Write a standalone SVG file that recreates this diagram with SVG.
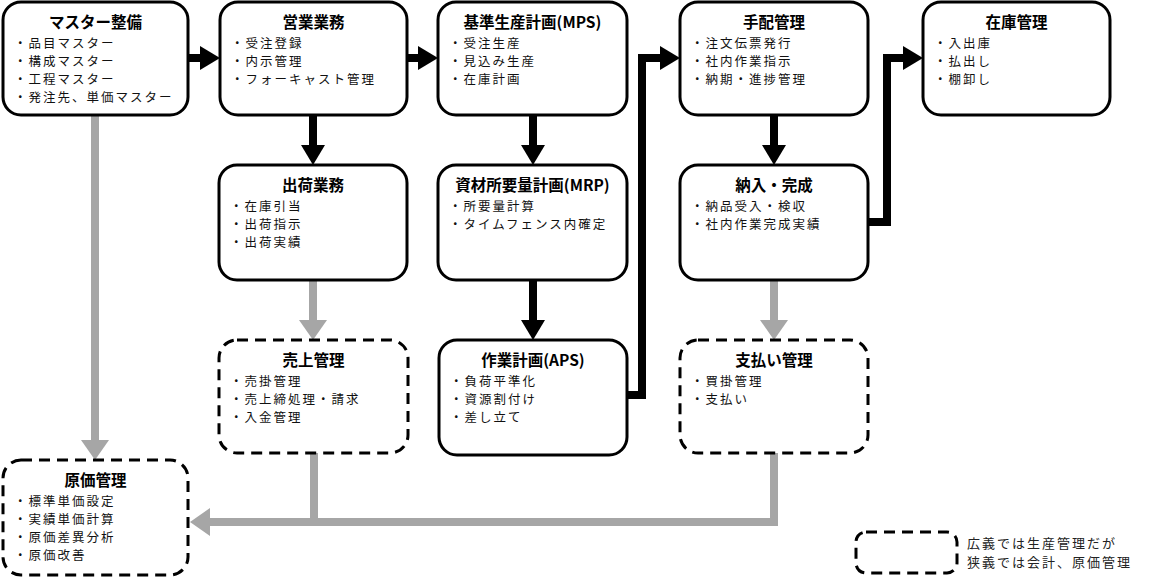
<svg xmlns="http://www.w3.org/2000/svg" width="1153" height="579" viewBox="0 0 1153 579">
<defs>
<style>
.box{fill:#fff;stroke:#000;stroke-width:3}
.dash{fill:#fff;stroke:#000;stroke-width:3;stroke-dasharray:11 7}
.t{font-family:"Noto Sans CJK JP","Noto Sans",sans-serif;font-size:15.5px;font-weight:bold;text-anchor:middle;fill:#000}
.i{font-family:"Noto Sans CJK JP","Noto Sans",sans-serif;font-size:12.5px;letter-spacing:2px;fill:#111}
.lg{font-family:"Noto Sans CJK JP","Noto Sans",sans-serif;font-size:13px;letter-spacing:2px;fill:#222}
.bk{fill:none;stroke:#000;stroke-width:8;stroke-linejoin:miter}
.gr{fill:none;stroke:#a6a6a6;stroke-width:8;stroke-linejoin:miter}
</style>
<marker id="ab" markerUnits="userSpaceOnUse" markerWidth="20" markerHeight="24" refX="0" refY="12" orient="auto" overflow="visible">
<path d="M0,0 L20,12 L0,24 z" fill="#000"/>
</marker>
<marker id="ag" markerUnits="userSpaceOnUse" markerWidth="20" markerHeight="28" refX="0" refY="14" orient="auto" overflow="visible">
<path d="M0,0 L20,14 L0,28 z" fill="#a6a6a6"/>
</marker>
</defs>
<rect width="1153" height="579" fill="#fff"/>

<g id="connectors">
<path class="gr" d="M95,115 V440" marker-end="url(#ag)"/>
<path class="gr" d="M313,280 V320" marker-end="url(#ag)"/>
<path class="gr" d="M774,280 V320" marker-end="url(#ag)"/>
<path class="gr" d="M314,453 V522"/>
<path class="gr" d="M774,453 V522 H210" marker-end="url(#ag)"/>
<path class="bk" d="M188,58 H200" marker-end="url(#ab)"/>
<path class="bk" d="M407,58 H418" marker-end="url(#ab)"/>
<path class="bk" d="M313,115 V145" marker-end="url(#ab)"/>
<path class="bk" d="M533,115 V145" marker-end="url(#ab)"/>
<path class="bk" d="M533,280 V320" marker-end="url(#ab)"/>
<path class="bk" d="M627,395 H642 V58 H660" marker-end="url(#ab)"/>
<path class="bk" d="M774,115 V145" marker-end="url(#ab)"/>
<path class="bk" d="M867,222 H887 V58 H903" marker-end="url(#ab)"/>
</g>

<g id="master">
<rect class="box" x="3" y="2" width="185" height="113" rx="18"/>
<text class="t" x="95.5" y="28">マスター整備</text>
<text class="i" x="14" y="47.5">・品目マスター</text>
<text class="i" x="14" y="65.7">・構成マスター</text>
<text class="i" x="14" y="83.9">・工程マスター</text>
<text class="i" x="14" y="102.1">・発注先、単価マスター</text>
</g>

<g id="eigyo">
<rect class="box" x="220" y="2" width="187" height="113" rx="18"/>
<text class="t" x="313.5" y="28">営業業務</text>
<text class="i" x="231" y="47.5">・受注登録</text>
<text class="i" x="231" y="65.7">・内示管理</text>
<text class="i" x="231" y="83.9">・フォーキャスト管理</text>
</g>

<g id="mps">
<rect class="box" x="438" y="2" width="189" height="113" rx="18"/>
<text class="t" x="532.5" y="28">基準生産計画(MPS)</text>
<text class="i" x="449" y="47.5">・受注生産</text>
<text class="i" x="449" y="65.7">・見込み生産</text>
<text class="i" x="449" y="83.9">・在庫計画</text>
</g>

<g id="tehai">
<rect class="box" x="680" y="2" width="188" height="113" rx="18"/>
<text class="t" x="774" y="28">手配管理</text>
<text class="i" x="691" y="47.5">・注文伝票発行</text>
<text class="i" x="691" y="65.7">・社内作業指示</text>
<text class="i" x="691" y="83.9">・納期・進捗管理</text>
</g>

<g id="zaiko">
<rect class="box" x="923" y="2" width="187" height="113" rx="18"/>
<text class="t" x="1016.5" y="28">在庫管理</text>
<text class="i" x="934" y="47.5">・入出庫</text>
<text class="i" x="934" y="65.7">・払出し</text>
<text class="i" x="934" y="83.9">・棚卸し</text>
</g>

<g id="shukka">
<rect class="box" x="219" y="165" width="188" height="115" rx="18"/>
<text class="t" x="313" y="191">出荷業務</text>
<text class="i" x="230" y="210.5">・在庫引当</text>
<text class="i" x="230" y="228.7">・出荷指示</text>
<text class="i" x="230" y="246.9">・出荷実績</text>
</g>

<g id="mrp">
<rect class="box" x="438" y="165" width="189" height="115" rx="18"/>
<text class="t" x="532.5" y="191">資材所要量計画(MRP)</text>
<text class="i" x="449" y="210.5">・所要量計算</text>
<text class="i" x="449" y="228.7">・タイムフェンス内確定</text>
</g>

<g id="nyuka">
<rect class="box" x="680" y="165" width="188" height="115" rx="18"/>
<text class="t" x="774" y="191">納入・完成</text>
<text class="i" x="691" y="210.5">・納品受入・検収</text>
<text class="i" x="691" y="228.7">・社内作業完成実績</text>
</g>

<g id="uriage">
<rect class="dash" x="219" y="340" width="189" height="113" rx="18"/>
<text class="t" x="313.5" y="366">売上管理</text>
<text class="i" x="230" y="385.5">・売掛管理</text>
<text class="i" x="230" y="403.7">・売上締処理・請求</text>
<text class="i" x="230" y="421.9">・入金管理</text>
</g>

<g id="aps">
<rect class="box" x="439" y="340" width="188" height="115" rx="18"/>
<text class="t" x="533" y="366">作業計画(APS)</text>
<text class="i" x="450" y="385.5">・負荷平準化</text>
<text class="i" x="450" y="403.7">・資源割付け</text>
<text class="i" x="450" y="421.9">・差し立て</text>
</g>

<g id="shiharai">
<rect class="dash" x="680" y="340" width="188" height="113" rx="18"/>
<text class="t" x="774" y="366">支払い管理</text>
<text class="i" x="691" y="385.5">・買掛管理</text>
<text class="i" x="691" y="403.7">・支払い</text>
</g>

<g id="genka">
<rect class="dash" x="3" y="460" width="185" height="115" rx="18"/>
<text class="t" x="95.5" y="486">原価管理</text>
<text class="i" x="14" y="505.5">・標準単価設定</text>
<text class="i" x="14" y="523.7">・実績単価計算</text>
<text class="i" x="14" y="541.9">・原価差異分析</text>
<text class="i" x="14" y="560.1">・原価改善</text>
</g>

<g id="legend">
<rect class="dash" x="856" y="532" width="101" height="41" rx="10"/>
<text class="lg" x="967" y="548">広義では生産管理だが</text>
<text class="lg" x="967" y="567">狭義では会計、原価管理</text>
</g>
</svg>
